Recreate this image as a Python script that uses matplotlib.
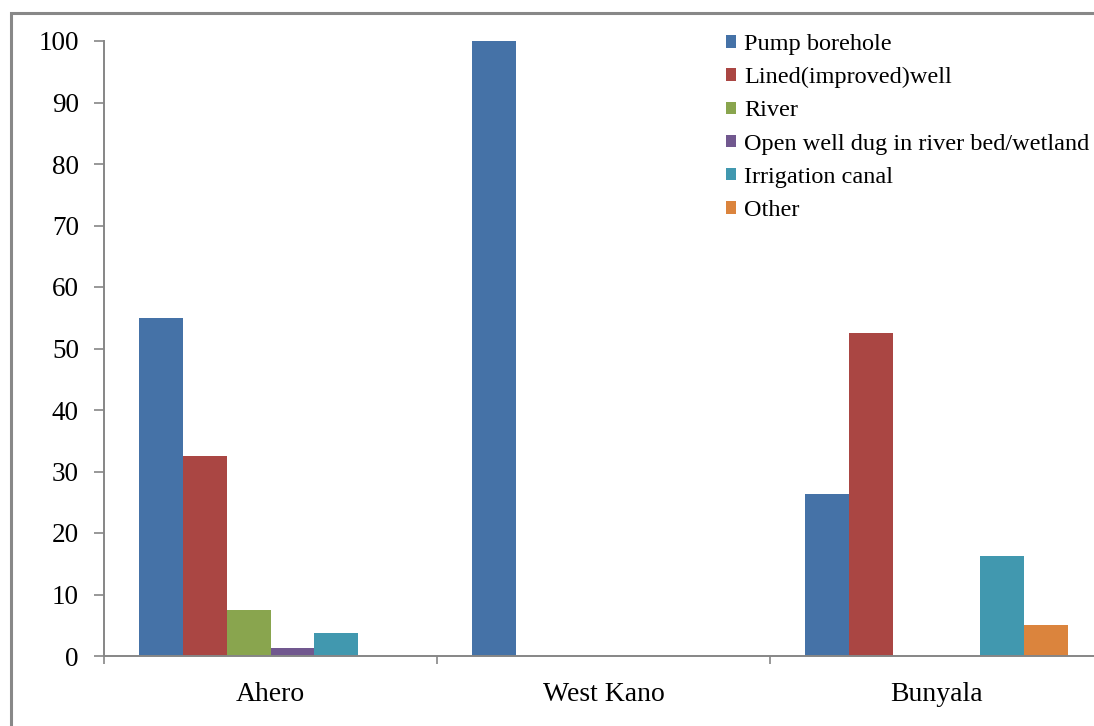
import numpy as np
import matplotlib.pyplot as plt
from matplotlib.patches import Rectangle

# Sources of water by site (%)
sites = ['Ahero', 'West Kano', 'Bunyala']
sources = ['Pump borehole', 'Lined(improved)well', 'River',
           'Open well dug in river bed/wetland', 'Irrigation canal', 'Other']
pump_borehole = [55.0, 100.0, 26.3]
lined_well = [32.6, 0, 52.5]
river = [7.5, 0, 0]
open_well = [1.3, 0, 0]
irrigation_canal = [3.8, 0, 16.3]
other = [0, 0, 5.0]

colores = ['#4572A7', '#AA4643', '#89A54E', '#71588F', '#4198AF', '#DB843D']

plt.rcParams['font.family'] = ['Liberation Serif', 'DejaVu Serif']

fig = plt.figure(figsize=(10.94, 7.26), dpi=100)
W, H = 1094, 726
ax = fig.add_axes([104 / W, (H - 656) / H, 999 / W, 615 / H])

series = [pump_borehole, lined_well, river, open_well, irrigation_canal, other]
x = np.arange(len(sites))
largura = 0.132
for i, (nome, vals) in enumerate(zip(sources, series)):
    ax.bar(x + (i - 2.5) * largura, vals, largura, color=colores[i],
           label=nome, edgecolor='none', zorder=2)

ax.set_xlim(-0.5, 2.5)
ax.set_ylim(0, 100)
ax.set_yticks(range(0, 101, 10))

# Category separators as major ticks, names as minor ticks
ax.set_xticks([-0.5, 0.5, 1.5, 2.5])
ax.set_xticklabels([])
ax.set_xticks(x, minor=True)
ax.set_xticklabels(sites, minor=True, fontsize=20)
ax.tick_params(axis='x', which='major', direction='out', length=6,
               color='#868686', width=1.2)
ax.tick_params(axis='x', which='minor', length=0, pad=19)
ax.tick_params(axis='y', direction='out', length=7, color='#868686',
               width=1.2, labelsize=19.5, pad=11)

for lado in ['top', 'right']:
    ax.spines[lado].set_visible(False)
for lado in ['left', 'bottom']:
    ax.spines[lado].set_color('#868686')
    ax.spines[lado].set_linewidth(1.4)

leg = ax.legend(loc='upper left', bbox_to_anchor=(726 / W, 1 - 34 / H),
                bbox_transform=fig.transFigure, frameon=False, fontsize=17.5,
                handlelength=0.42, handleheight=0.42, handletextpad=0.34,
                labelspacing=0.5, borderaxespad=0, borderpad=0)

# Outer chart frame
fig.patches.append(Rectangle((11 / W, 0 - 0.05), 1.2, 1 - 13 / H + 0.05,
                             transform=fig.transFigure, fill=False,
                             edgecolor='#888888', linewidth=2.2,
                             clip_on=False))

fig.savefig('out.png', dpi=100)
